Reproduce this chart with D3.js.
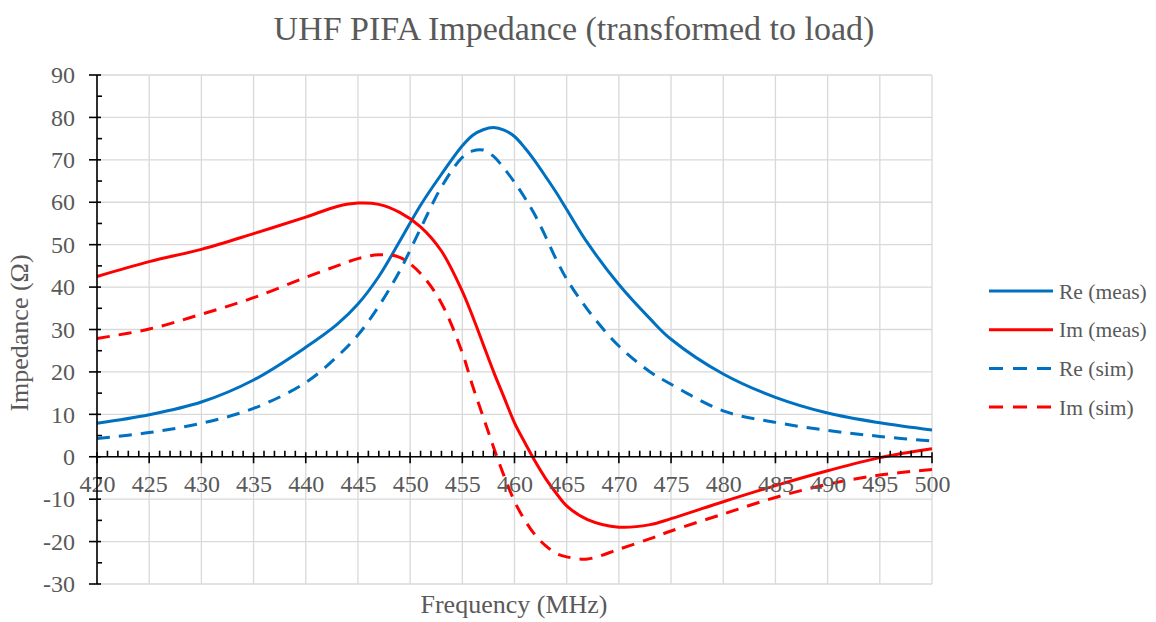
<!DOCTYPE html>
<html>
<head>
<meta charset="utf-8">
<script src="https://cdn.jsdelivr.net/npm/d3@7"></script>
<style>
  html, body { margin: 0; padding: 0; background: #fff; }
  svg { display: block; }
  text { font-family: "Liberation Serif", "Times New Roman", serif; fill: #595959; }
</style>
</head>
<body>
<svg id="chart" width="1156" height="622"></svg>
<script>
// ---- data ----
const freq   = [420,425,430,435,440,443,445,447,449,451,453,455,456,457,458,459,460,461,462,463,464,465,467,470,473,475,480,485,490,495,500];
const reMeas = [7.9,9.9,12.9,18.1,25.8,31.2,36,42.5,50.8,59.3,66.6,73.3,75.8,77.1,77.6,77.0,75.5,72.8,69.6,66,62.3,58.3,50.4,40.6,32.5,27.7,19.5,14,10.3,8,6.3];
const imMeas = [42.5,46,48.9,52.6,56.5,59,59.8,59.5,57.6,54.2,48.5,39,33,26.5,20,14,8,3.3,-1.2,-5.2,-8.6,-11.6,-14.8,-16.6,-16,-14.6,-10.6,-6.8,-3.3,-0.2,1.9];
const reSim  = [4.3,5.7,7.9,11.4,17.5,23.6,28.7,35.5,43.8,53.8,63.6,70.6,72.1,72.3,70.8,68,64.7,61,56.8,51.8,46.5,41.9,34.7,26.1,20,17.1,10.8,8.1,6.2,4.8,3.7];
const imSim  = [27.9,30.1,33.6,37.5,42.3,45,46.7,47.6,47,43.2,36.2,24.5,16.6,9.4,2.2,-4.5,-10.5,-15,-18.5,-21,-22.8,-23.6,-24.1,-21.8,-19.3,-17.5,-13.5,-9.6,-6.5,-4.3,-3];
const seriesNames  = ["Re (meas)", "Im (meas)", "Re (sim)", "Im (sim)"];
const xTickLabels  = [420,425,430,435,440,445,450,455,460,465,470,475,480,485,490,495,500];
const yTickLabels  = [-30,-20,-10,0,10,20,30,40,50,60,70,80,90];
const titleText = "UHF PIFA Impedance (transformed to load)";
const xTitle = "Frequency (MHz)";
const yTitle = "Impedance (\u03A9)";

// ---- layout ----
const svg = d3.select("#chart");
const FONT = "'Liberation Serif', 'Times New Roman', serif";
const L = 97, R = 932, T = 75, B = 584;
const x = d3.scaleLinear().domain([420, 500]).range([L, R]);
const y = d3.scaleLinear().domain([-30, 90]).range([B, T]);
const BLUE = "#0070C0", RED = "#FF0000", GRID = "#d9d9d9", TEXT = "#595959";

const series = [
  { name: seriesNames[0], vals: reMeas, color: BLUE, dash: null },
  { name: seriesNames[1], vals: imMeas, color: RED,  dash: null },
  { name: seriesNames[2], vals: reSim,  color: BLUE, dash: "13,9" },
  { name: seriesNames[3], vals: imSim,  color: RED,  dash: "13,9" }
];

// grid
const grid = svg.append("g");
grid.selectAll("line.h").data(yTickLabels).join("line")
  .attr("x1", L).attr("x2", R).attr("y1", d => y(d)).attr("y2", d => y(d))
  .attr("stroke", GRID).attr("stroke-width", 1.3);
grid.selectAll("line.v").data(xTickLabels).join("line")
  .attr("x1", d => x(d)).attr("x2", d => x(d)).attr("y1", T).attr("y2", B)
  .attr("stroke", GRID).attr("stroke-width", 1.3);

// lines
const line = d3.line().x((d, i) => x(freq[i])).y(d => y(d)).curve(d3.curveCatmullRom.alpha(0.5));
svg.append("g").selectAll("path").data(series).join("path")
  .attr("d", s => line(s.vals))
  .attr("fill", "none")
  .attr("stroke", s => s.color)
  .attr("stroke-width", 3)
  .attr("stroke-dasharray", s => s.dash);

const fmt = d => String(d);

// y axis (labels via d3.axisLeft)
const yAx = svg.append("g").attr("transform", `translate(${L},0)`)
  .call(d3.axisLeft(y).tickValues(yTickLabels).tickSize(0).tickPadding(22).tickFormat(fmt));
yAx.attr("font-family", FONT).attr("font-size", 24);
yAx.select(".domain").remove();
yAx.selectAll("text").attr("fill", TEXT).style("font-size", "24px").style("font-family", FONT);

// x axis labels via d3.axisBottom at y=0
const xAx = svg.append("g").attr("transform", `translate(0,${y(0)})`)
  .call(d3.axisBottom(x).tickValues(xTickLabels).tickSize(0).tickPadding(18).tickFormat(fmt));
xAx.attr("font-family", FONT).attr("font-size", 24);
xAx.select(".domain").remove();
xAx.selectAll("text").attr("fill", TEXT).style("font-size", "24px").style("font-family", FONT);

// axis lines and ticks
const ax = svg.append("g").attr("stroke", "#000").attr("stroke-width", 1.6);
ax.append("line").attr("x1", L).attr("x2", L).attr("y1", T).attr("y2", B);
ax.append("line").attr("x1", L).attr("x2", R).attr("y1", y(0)).attr("y2", y(0));
ax.selectAll("line.ymaj").data(yTickLabels).join("line")
  .attr("x1", L - 8).attr("x2", L + 4).attr("y1", d => y(d)).attr("y2", d => y(d));
ax.selectAll("line.ymin").data(d3.range(-25, 90, 10)).join("line")
  .attr("x1", L).attr("x2", L + 5).attr("y1", d => y(d)).attr("y2", d => y(d));
ax.selectAll("line.xmaj").data(xTickLabels).join("line")
  .attr("x1", d => x(d)).attr("x2", d => x(d)).attr("y1", y(0) - 4.5).attr("y2", y(0) + 6.5);
ax.selectAll("line.xmin").data(d3.range(421, 500, 1).filter(d => d % 5 !== 0)).join("line")
  .attr("x1", d => x(d)).attr("x2", d => x(d)).attr("y1", y(0) - 6).attr("y2", y(0));

// titles
svg.append("text").attr("x", 574).attr("y", 40).attr("text-anchor", "middle")
  .style("font-family", FONT).style("font-size", "34px").text(titleText);
svg.append("text").attr("x", 514).attr("y", 613).attr("text-anchor", "middle")
  .style("font-family", FONT).style("font-size", "26px").text(xTitle);
svg.append("text").attr("transform", "translate(28,333) rotate(-90)").attr("text-anchor", "middle")
  .style("font-family", FONT).style("font-size", "26px").text(yTitle);

// legend
const lg = svg.append("g").selectAll("g").data(series).join("g")
  .attr("transform", (s, i) => `translate(989,${291 + i * 38.7})`);
lg.append("line").attr("x1", 0).attr("x2", 64).attr("y1", 0).attr("y2", 0)
  .attr("stroke", s => s.color).attr("stroke-width", 3).attr("stroke-dasharray", s => s.dash ? "14,10" : null);
lg.append("text").attr("x", 70).attr("y", 0).attr("dy", "0.35em")
  .style("font-family", FONT).style("font-size", "21.5px").text(s => s.name);
</script>
</body>
</html>
